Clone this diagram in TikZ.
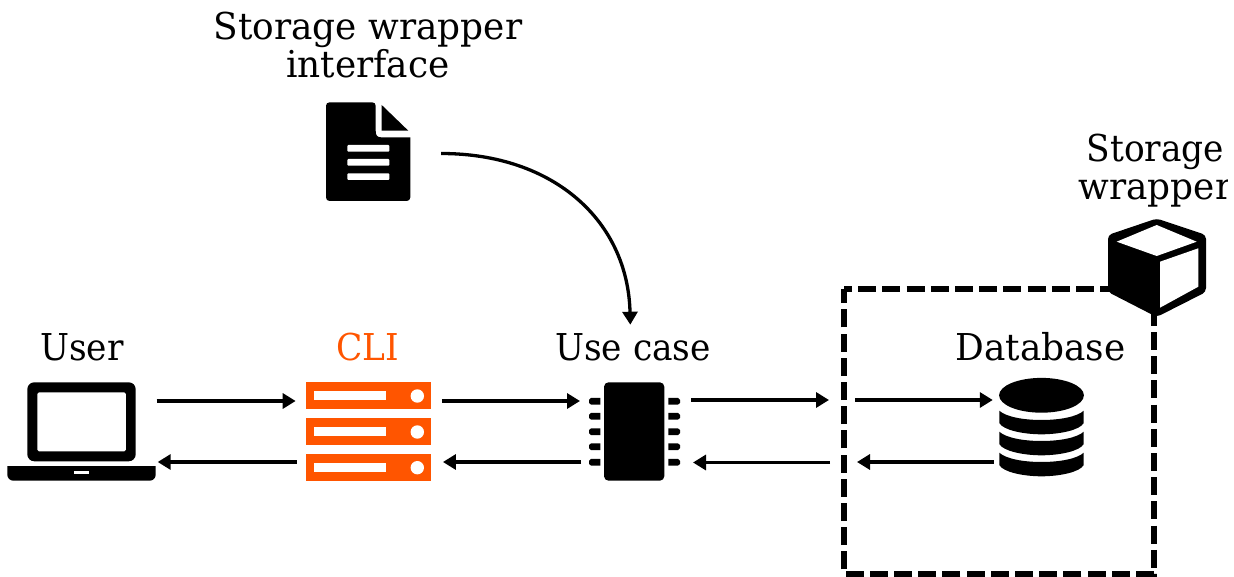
\documentclass[tikz,border=0pt]{standalone}
\usepackage{fontspec}
\setmainfont[FakeStretch=0.93]{DejaVu Serif}
\newfontfamily\widefont[FakeStretch=0.97]{DejaVu Serif}
\usetikzlibrary{arrows.meta}
\definecolor{cliorange}{HTML}{FF5500}
\tikzset{
  label text/.style={anchor=base,inner sep=0pt,font=\fontsize{37}{38}\selectfont},
  wide text/.style={label text,font=\widefont\fontsize{37}{38}\selectfont},
  iconbox/.style={inner sep=0pt,outer sep=0pt,rectangle},
  conn/.style={line width=3.3pt,-{Triangle[length=13pt,width=15pt]}},
  chip pin/.style={fill=black},
  wrapper box/.style={line width=6pt,line join=miter,dash pattern=on 18pt off 6.2pt,dash phase=10pt}
}
\begin{document}
\begin{tikzpicture}[x=1pt,y=-1pt]
\useasboundingbox (0,0) rectangle (1234,577);
% anchor nodes
\node[iconbox,minimum width=148.4pt,minimum height=99pt] (laptop) at (81.5,431.5) {};
\node[iconbox,minimum width=125.3pt,minimum height=99pt] (rack) at (368.3,431.5) {};
\node[iconbox,minimum width=91pt,minimum height=99pt] (chip) at (634.5,431.5) {};
\node[iconbox,minimum width=84.4pt,minimum height=98pt] (db) at (1041.5,427.2) {};
\node[iconbox,minimum width=84.3pt,minimum height=98.7pt] (doc) at (368.2,151.7) {};
\node[iconbox,minimum width=310pt,minimum height=285pt] (box) at (999,431.5) {};
\coordinate (boxleftA) at (829,400);
\coordinate (boxleftB) at (830,462.5);
\coordinate (boxinA) at (855,400);
\coordinate (boxinB) at (857,462);
% dashed box
\draw[wrapper box] (box.north west) -- (box.north east) -- (box.south east) -- (box.south west) -- cycle;
% laptop
\fill[even odd rule,rounded corners=7pt] (27.3,382.3) rectangle (135.7,461.3)
   [rounded corners=1.5pt] (37.3,392.3) rectangle (126,451.3);
\fill (7.3,466) -- (155.7,466) -- (155.7,473) [rounded corners=6pt] -- (155.7,480.7) -- (7.3,480.7) [sharp corners] -- (7.3,466) -- cycle;
\fill[white] (74,471) rectangle (89,473.7);
% server rack
\foreach \yy/\cy in {382.3/396,418.3/432,454/467.7}{
  \fill[cliorange] (305.7,\yy) rectangle (431,\yy+26.9);
  \fill[white] (314.3,\yy+9) rectangle (386,\yy+18);
  \fill[white] (417.3,\cy) circle (6.7pt);
}
% chip
\fill[rounded corners=4.5pt] (604,382.3) rectangle (664.3,480.7);
\foreach \yy in {401.3,416.3,431.7,446.7,462.3}{
  \fill[chip pin] (600.3,\yy-3.4) -- (600.3,\yy+3.4) -- (591,\yy+3.4) -- (589,\yy+1.5) -- (589,\yy-1.5) -- (591,\yy-3.4) -- cycle;
  \fill[chip pin] (668.3,\yy-3.4) -- (668.3,\yy+3.4) -- (678,\yy+3.4) -- (680,\yy+1.5) -- (680,\yy-1.5) -- (678,\yy-3.4) -- cycle;
}
% database
\fill (1041.5,395.3) ellipse [x radius=42.4pt,y radius=17.4pt];
\foreach \dd in {0,21,42}{
  \begin{scope}[shift={(0,\dd)}]
  \fill (999.3,410.7) .. controls (1006,417) and (1024,420) .. (1041.5,420)
     .. controls (1059,420) and (1077,417) .. (1083.7,410.7) -- (1083.7,423)
     .. controls (1080,430) and (1060,434.3) .. (1041.5,434.3)
     .. controls (1023,434.3) and (1003,430) .. (999.3,423) -- cycle;
  \end{scope}
}
% cube
\fill[rounded corners=4pt] (1156.7,218.5) -- (1206,235) -- (1206,292) -- (1156.7,317) -- (1108,292) -- (1108,235) -- cycle;
\fill[white] (1116.7,241.7) -- (1156.7,225) -- (1196.7,241.7) -- (1156.7,256) -- cycle;
\fill[white] (1160,261.7) -- (1198.3,248.3) -- (1198.3,286.7) -- (1160,307.7) -- cycle;
% document
\fill[rounded corners=3.5pt] (326,102.3) -- (375.7,102.3) [sharp corners] -- (375.7,131) .. controls (375.7,135) and (377,137.3) .. (381,137.3) -- (410.3,137.3) [rounded corners=3.5pt] -- (410.3,201) -- (326,201) -- cycle;
\fill (381.7,105) -- (408.3,130.7) -- (381.7,130.7) -- cycle;
\foreach \yy in {145,159,173.3}{
  \fill[white,rounded corners=1pt] (347.3,\yy) rectangle (389.3,\yy+6.7);
}
% connectors
\draw[conn] ([yshift=30.5pt,xshift=1pt]laptop.east) -- ([yshift=30.5pt,xshift=-10pt]rack.west);
\draw[conn] ([yshift=-30.5pt,xshift=-9pt]rack.west) -- ([yshift=-30.5pt,xshift=2pt]laptop.east);
\draw[conn] ([yshift=30.5pt,xshift=11pt]rack.east) -- ([yshift=30.5pt,xshift=-9pt]chip.west);
\draw[conn] ([yshift=-30.5pt,xshift=-8pt]chip.west) -- ([yshift=-30.5pt,xshift=12pt]rack.east);
\draw[conn] ([yshift=31.5pt,xshift=11pt]chip.east) -- (boxleftA);
\draw[conn] (boxleftB) -- ([yshift=-31pt,xshift=13pt]chip.east);
\draw[conn] (boxinA) -- ([yshift=27.2pt,xshift=-6.5pt]db.west);
\draw[conn] ([yshift=-34.8pt,xshift=-5.5pt]db.west) -- (boxinB);
\draw[conn] ([yshift=-1.8pt,xshift=30.7pt]doc.east) .. controls (555,153.5) and (628,222) .. ([yshift=57.3pt,xshift=-4.2pt]chip.north);
% labels
\node[label text] (tUser) at (82,360) {User};
\node[label text,text=cliorange] (tCli) at (368,360) {CLI};
\node[label text] (tUse) at (633,360) {Use case};
\node[wide text] (tDb) at (1040.5,360) {Database};
\node[wide text] (tIfaceA) at (368,39.5) {Storage wrapper};
\node[wide text] (tIfaceB) at (368,77.5) {interface};
\begin{scope}
  \clip (0,0) rectangle (1227,577);
  \node[label text] (tWrapA) at (1155.5,162) {Storage};
  \node[wide text] (tWrapB) at (1155.5,200) {wrapper};
\end{scope}
\end{tikzpicture}
\end{document}
